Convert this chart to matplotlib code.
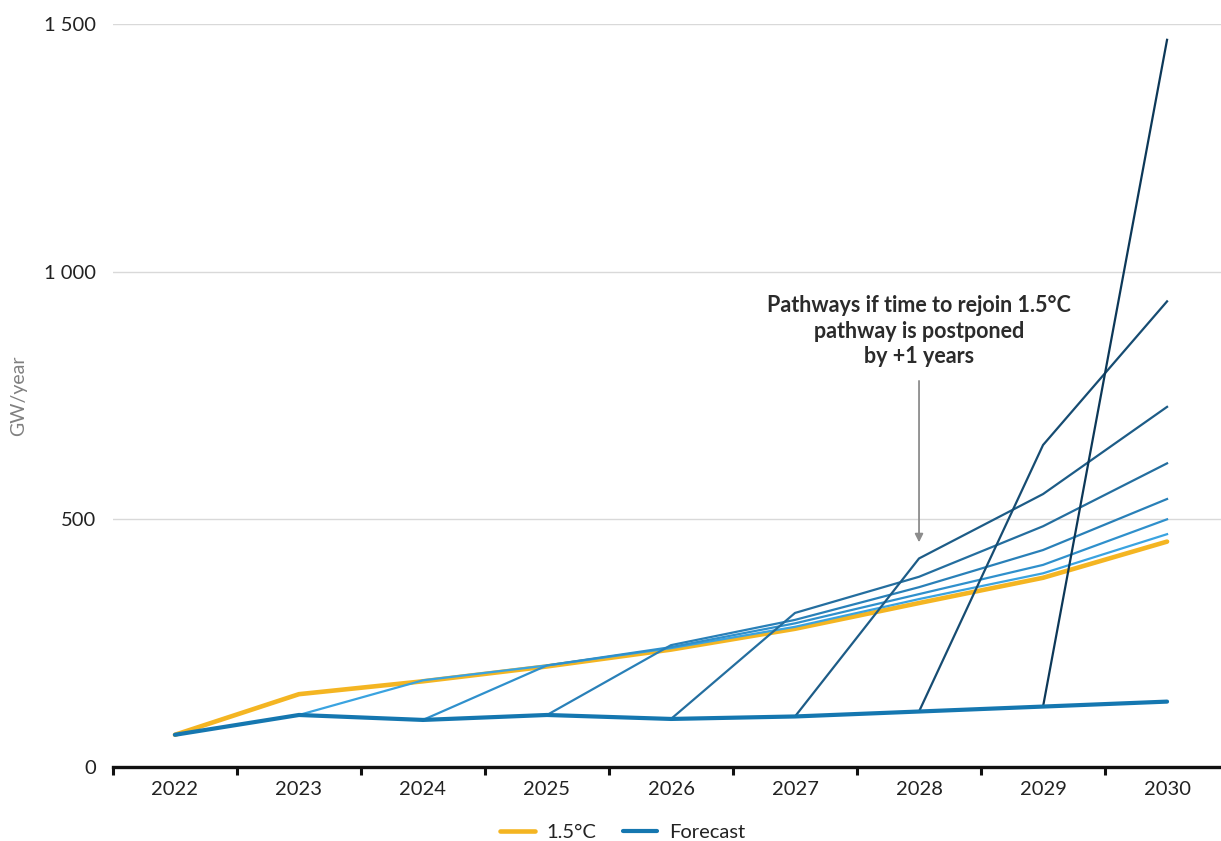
import matplotlib.pyplot as plt
from matplotlib.ticker import FuncFormatter

plt.rcParams['font.family'] = ['Lato', 'DejaVu Sans']

# data
years = [2022, 2023, 2024, 2025, 2026, 2027, 2028, 2029, 2030]
path_15c = [65, 147, 173, 203, 237, 279, 331, 382, 455]
forecast = [65, 105, 95, 105, 97, 102, 112, 122, 132]

# pathways if rejoining 1.5C is postponed, one per start year (starts on forecast)
path_starts = [2023, 2024, 2025, 2026, 2027, 2028, 2029]
path_values = [
    [105, 175, 205, 240, 283, 339, 391, 470],
    [95, 205, 242, 290, 349, 408, 500],
    [105, 246, 297, 363, 438, 541],
    [97, 311, 384, 486, 613],
    [102, 421, 551, 727],
    [112, 650, 940],
    [122, 1468],
]
path_colors = ['#3aa3e0', '#2f90cc', '#2980b8', '#246e9f', '#1d5c87', '#164c72', '#0c3858']

fig = plt.figure(figsize=(12.21, 8.41), dpi=100)
ax = fig.add_axes([0.0925, 0.088, 0.9075, 0.8835])

ax.plot(years, path_15c, color='#f4b522', lw=3.3, solid_capstyle='round', zorder=3, label='1.5°C')
for start, vals, c in zip(path_starts, path_values, path_colors):
    xs = years[years.index(start):]
    ax.plot(xs, vals, color=c, lw=1.6, zorder=4)
ax.plot(years, forecast, color='#1577b0', lw=3.0, solid_capstyle='round', zorder=5, label='Forecast')

# category style x axis: ticks between years, labels at centres
ax.set_xticks([y - 0.5 for y in years])
ax.set_xticklabels([])
ax.set_xticks(years, minor=True)
ax.set_xticklabels([str(y) for y in years], minor=True)
ax.tick_params(axis='x', which='major', length=6, width=2.2, color='#111111', direction='out')
ax.tick_params(axis='x', which='minor', length=0, pad=10, labelsize=14.5, labelcolor='#222222')

ax.set_yticks([0, 500, 1000, 1500])
ax.yaxis.set_major_formatter(FuncFormatter(lambda v, p: f'{int(v):,}'.replace(',', ' ')))
ax.tick_params(axis='y', length=0, pad=12, labelsize=14.5, labelcolor='#222222')
ax.grid(axis='y', color='#d9d9d9', lw=1.0)
ax.set_axisbelow(True)

ax.set_xlim(2021.5, 2030.435)
ax.set_ylim(0, 1500)

for s in ['top', 'right', 'left']:
    ax.spines[s].set_visible(False)
ax.spines['bottom'].set_color('#111111')
ax.spines['bottom'].set_linewidth(2.4)
ax.spines['bottom'].set_zorder(6)

ax.set_ylabel('GW/year', color='#808080', fontsize=14, labelpad=12)

ax.text(2028, 880, 'Pathways if time to rejoin 1.5°C\npathway is postponed\nby +1 years',
        ha='center', va='center', fontsize=15.5, fontweight='bold', color='#2b2b2b',
        linespacing=1.25)
ax.annotate('', xy=(2028, 448), xytext=(2028, 785),
            arrowprops=dict(arrowstyle='-|>', color='#8c8c8c', lw=1.3, mutation_scale=12))

fig.legend(loc='lower center', bbox_to_anchor=(0.51, -0.022), ncol=2, frameon=False,
           fontsize=14.5, handlelength=1.7, columnspacing=1.3, handletextpad=0.6,
           labelcolor='#222222')

plt.savefig('out.png', dpi=100)
